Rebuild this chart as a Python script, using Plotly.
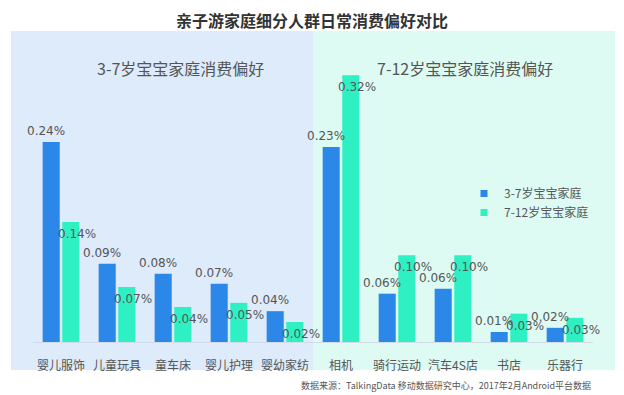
import plotly.graph_objects as go

categories = ["婴儿服饰", "儿童玩具", "童车床", "婴儿护理", "婴幼家纺",
              "相机", "骑行运动", "汽车4S店", "书店", "乐器行"]
series_names = ["3-7岁宝宝家庭", "7-12岁宝宝家庭"]
values_3_7 = [0.24, 0.094, 0.082, 0.070, 0.037, 0.234, 0.058, 0.064, 0.012, 0.017]
values_7_12 = [0.144, 0.066, 0.042, 0.047, 0.024, 0.32, 0.104, 0.104, 0.034, 0.029]
panel_titles = ["3-7岁宝宝家庭消费偏好", "7-12岁宝宝家庭消费偏好"]
chart_title = "亲子游家庭细分人群日常消费偏好对比"
source_text = "数据来源：TalkingData 移动数据研究中心，2017年2月Android平台数据"

W, H = 624, 395
ML, MR, MT, MB = 33, 31, 42, 53
PW, PH = W - ML - MR, H - MT - MB

def px_x(p):
    return (p - ML) / PW

def px_y(p):
    return (H - MB - p) / PH

BLUE = "#2B88E8"
GREEN = "#2EF0C2"
TXT = "#555555"
NUM_FONT = "DejaVu Sans, Noto Sans CJK SC"
CJK_FONT = "Noto Sans CJK SC, Microsoft YaHei, sans-serif"

fig = go.Figure()
fig.add_trace(go.Bar(
    x=categories, y=values_3_7, name=series_names[0],
    marker=dict(color=BLUE, line=dict(width=0)),
    showlegend=False, hoverinfo="x+y",
))
fig.add_trace(go.Bar(
    x=categories, y=values_7_12, name=series_names[1],
    marker=dict(color=GREEN, line=dict(width=0)),
    showlegend=False, hoverinfo="x+y",
))
# legend proxies (small square markers)
for nm, col in zip(series_names, [BLUE, GREEN]):
    fig.add_trace(go.Scatter(
        x=[None], y=[None], mode="markers", name=nm,
        marker=dict(symbol="square", size=7, color=col),
        showlegend=True,
    ))

shapes = [
    dict(type="rect", xref="paper", yref="paper",
         x0=px_x(11), x1=px_x(313), y0=px_y(370), y1=px_y(31),
         fillcolor="#DDEBFB", line=dict(width=0), layer="below"),
    dict(type="rect", xref="paper", yref="paper",
         x0=px_x(313), x1=px_x(615), y0=px_y(370), y1=px_y(31),
         fillcolor="#DDFBF3", line=dict(width=0), layer="below"),
]

annotations = [
    dict(text=panel_titles[0], xref="paper", yref="paper", x=px_x(180), y=px_y(68),
         xanchor="center", yanchor="middle", showarrow=False,
         font=dict(family=CJK_FONT, size=16, color=TXT)),
    dict(text=panel_titles[1], xref="paper", yref="paper", x=px_x(465), y=px_y(68),
         xanchor="center", yanchor="middle", showarrow=False,
         font=dict(family=CJK_FONT, size=16, color=TXT)),
    dict(text=source_text, xref="paper", yref="paper", x=px_x(593), y=px_y(385),
         xanchor="right", yanchor="middle", showarrow=False,
         font=dict(family=CJK_FONT, size=9, color=TXT)),
]

# value labels, anchored to each bar's value through the data axes
for cat, v in zip(categories, values_3_7):
    annotations.append(dict(
        text=f"{v:.2f}%", xref="x", yref="y", x=cat, y=v,
        xshift=-15, yshift=11, xanchor="center", yanchor="middle",
        showarrow=False, font=dict(family=NUM_FONT, size=12, color=TXT)))
for cat, v in zip(categories, values_7_12):
    annotations.append(dict(
        text=f"{v:.2f}%", xref="x", yref="y", x=cat, y=v,
        xshift=16, yshift=-12, xanchor="center", yanchor="middle",
        showarrow=False, font=dict(family=NUM_FONT, size=12, color=TXT)))

fig.update_layout(
    width=W, height=H,
    margin=dict(l=ML, r=MR, t=MT, b=MB, pad=0),
    paper_bgcolor="white", plot_bgcolor="rgba(0,0,0,0)",
    title=dict(text="<b>" + chart_title + "</b>", x=312 / W, xanchor="center",
               y=1 - 21 / H, yanchor="middle", yref="container",
               font=dict(family=CJK_FONT, size=16, color="#333333")),
    barmode="group", bargap=0.3, bargroupgap=0.13,
    shapes=shapes, annotations=annotations,
    showlegend=True,
    legend=dict(x=px_x(464), y=px_y(179), xanchor="left", yanchor="top",
                bgcolor="rgba(0,0,0,0)", borderwidth=0,
                font=dict(family=CJK_FONT, size=12, color=TXT),
                itemwidth=30, tracegroupgap=0),
    xaxis=dict(type="category", showgrid=False, zeroline=False,
               showline=True, linecolor="#D3DCE6", linewidth=1,
               ticks="outside", ticklen=13, tickcolor="rgba(0,0,0,0)",
               tickfont=dict(family=CJK_FONT, size=12, color=TXT),
               range=[-0.5, 9.5], fixedrange=True),
    yaxis=dict(range=[0, 0.36], visible=False, showgrid=False, zeroline=False,
               fixedrange=True),
)

fig.write_html("out.html", config={"displayModeBar": False},
               post_script="document.body.style.margin='0';document.body.style.padding='0';")
